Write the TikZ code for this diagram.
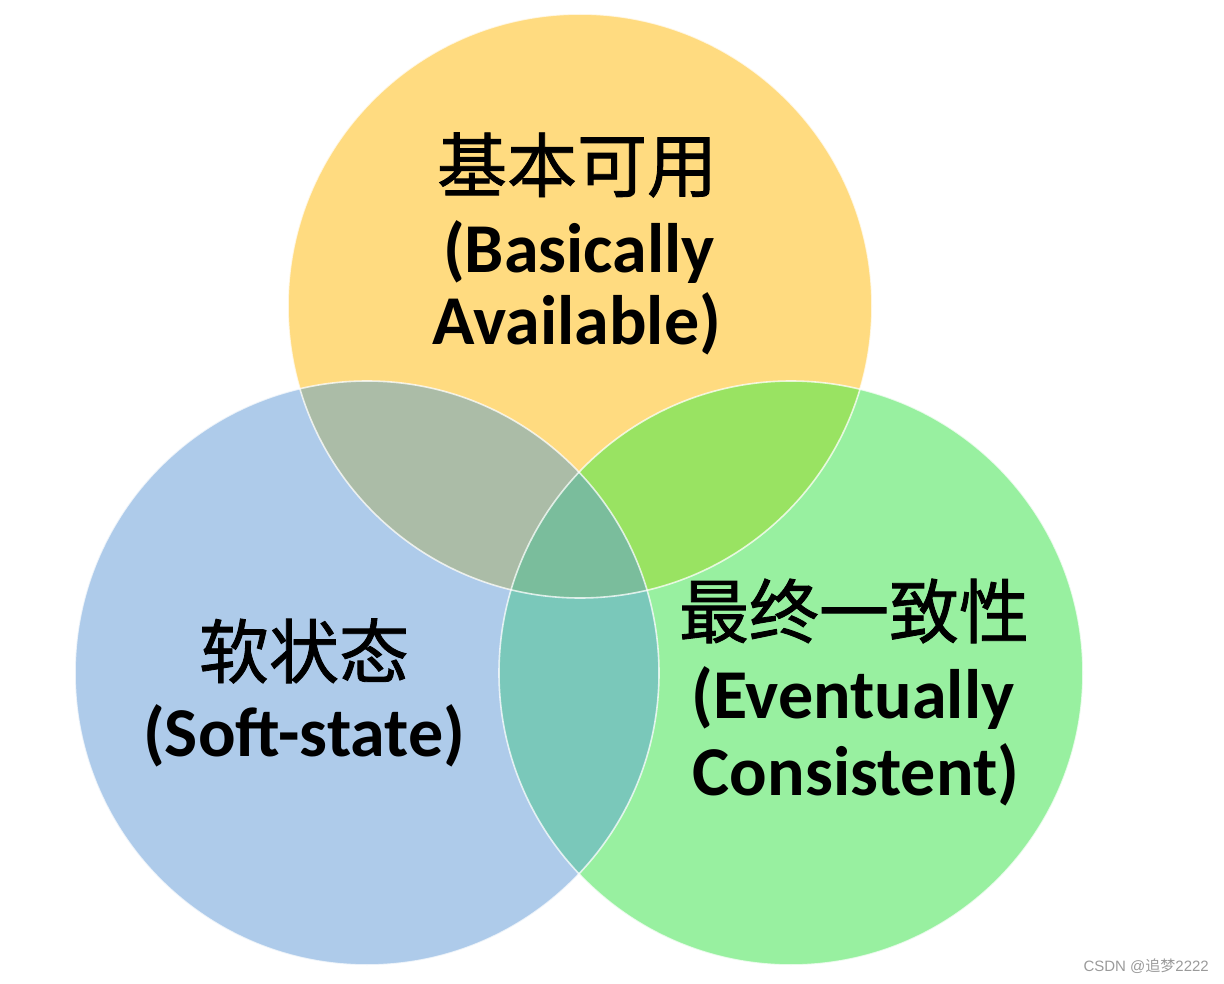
\documentclass[tikz,border=0pt]{standalone}
\usepackage{fontspec}
\setmainfont{Carlito}
\setsansfont{Liberation Sans}
\newfontfamily\cjk{Noto Sans CJK SC}
\newfontfamily\cjkheavy[FakeBold=1.2]{Noto Sans CJK SC}
\usetikzlibrary{positioning}

\begin{document}
\begin{tikzpicture}[
    x=1pt, y=-1pt,
    every node/.style={inner sep=0pt, text=black},
    cntext/.style={font=\cjkheavy\fontsize{70}{70}\selectfont},
    entext/.style={font=\bfseries\fontsize{70}{70}\selectfont},
    rim/.style={draw=white, line width=1.6pt, draw opacity=0.75},
]

\definecolor{cyellow}{HTML}{FFDB80}
\definecolor{cblue}{HTML}{AECBEA}
\definecolor{cgreen}{HTML}{98F0A0}
\definecolor{cyb}{HTML}{ABBCA7}   % yellow and blue
\definecolor{cyg}{HTML}{99E362}   % yellow and green
\definecolor{cbg}{HTML}{7AC8BA}   % blue and green
\definecolor{call}{HTML}{7ABD9C}  % all three
\definecolor{markgray}{HTML}{9A9A9A}

\def\rr{292}   % circle radius

\useasboundingbox (0,0) rectangle (1224,984);

\coordinate (ba) at (580,306);   % basically available
\coordinate (ss) at (367,673);   % soft state
\coordinate (ec) at (791,673);   % eventually consistent

% ---------------------------------------------------------------- circles
\fill[cgreen]  (ec) circle (\rr);
\fill[cblue]   (ss) circle (\rr);
\fill[cyellow] (ba) circle (\rr);

% ---------------------------------------------------------------- overlaps
\begin{scope}
  \clip (ba) circle (\rr);
  \fill[cyb] (ss) circle (\rr);
  \fill[cyg] (ec) circle (\rr);
\end{scope}
\begin{scope}
  \clip (ss) circle (\rr);
  \fill[cbg] (ec) circle (\rr);
  \clip (ec) circle (\rr);
  \fill[call] (ba) circle (\rr);
\end{scope}

% ---------------------------------------------------------------- rims
\draw[rim] (ec) circle (\rr);
\draw[rim] (ss) circle (\rr);
\draw[rim] (ba) circle (\rr);

% ---------------------------------------------------------------- labels
\node[cntext] (ba-cn) at (577,165) {基本可用};
\node[entext] (ba-en1) at (579,252) {(Basically};
\node[entext] (ba-en2) at (577,324) {Available)};

\node[cntext] (ss-cn) at (304,651) {软状态};
\node[entext] (ss-en) at (304,736) {(Soft-state)};

\node[cntext] (ec-cn) at (854,611) {最终一致性};
\node[entext] (ec-en1) at (853,698) {(Eventually};
\node[entext] (ec-en2) at (856,775) {Consistent)};

% ---------------------------------------------------------------- watermark
\node[font=\sffamily\fontsize{15}{15}\selectfont, text=markgray, anchor=east]
    (mark) at (1209,966) {CSDN @{\cjk 追梦}2222};

\end{tikzpicture}
\end{document}
